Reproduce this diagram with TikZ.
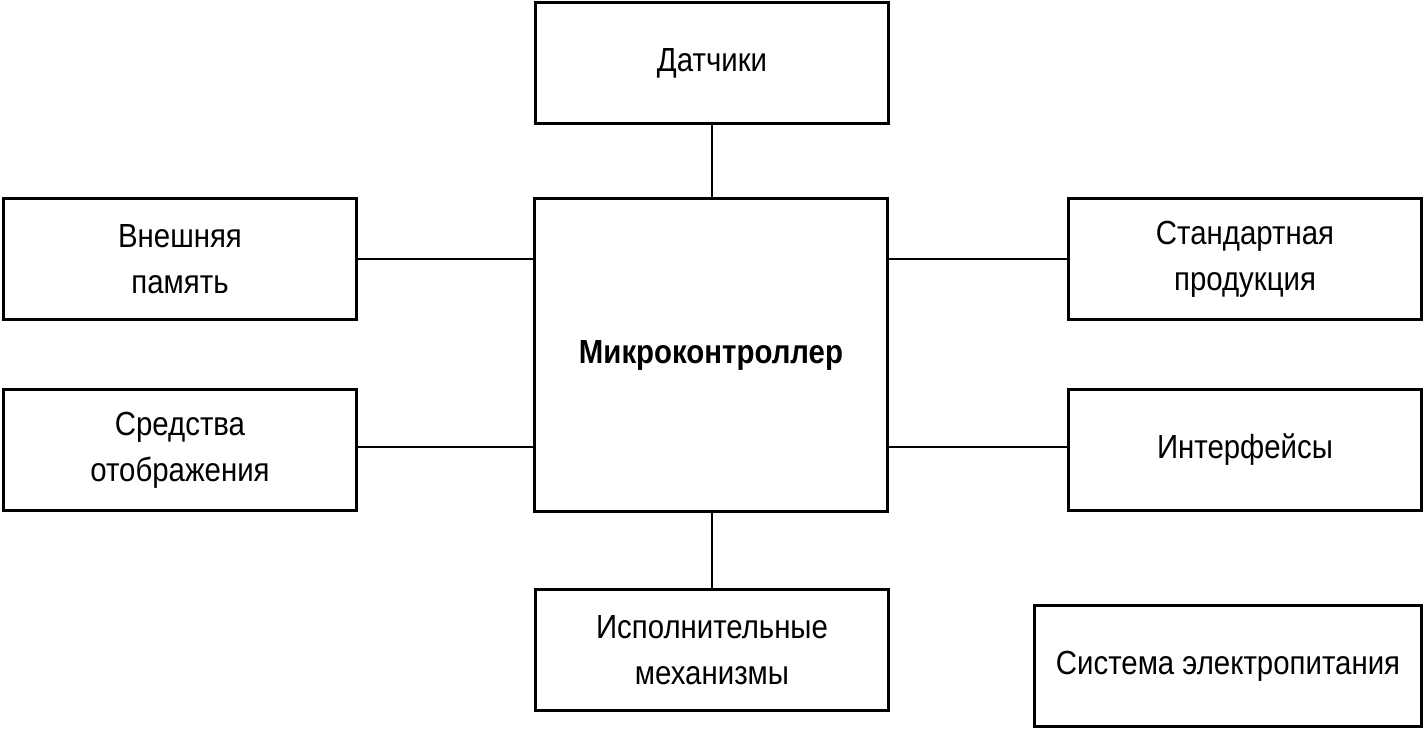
\documentclass[tikz,border=0pt]{standalone}
\usepackage{fontspec}
\setmainfont[FakeStretch=0.88]{Liberation Sans}
\begin{document}
\begin{tikzpicture}[x=0.01cm,y=-0.01cm,
  blk/.style={draw,line width=0.85pt,minimum width=3.52cm,minimum height=1.21cm,
    align=center,font=\fontsize{9.5}{13}\selectfont}]
\useasboundingbox (0,0) rectangle (1423,730);
%%% BLOCKS %%%
\node[blk] (sens) at (712,63) {Датчики};
\node[blk,minimum height=3.13cm,font=\fontsize{9.5}{13}\selectfont\bfseries] (mcu) at (711,355) {Микроконтроллер};
\node[blk] (mem) at (180,259) {Внешняя\\память};
\node[blk] (disp) at (180,450) {Средства\\отображения};
\node[blk] (std) at (1245,259) {Стандартная\\продукция};
\node[blk] (intf) at (1245,450) {Интерфейсы};
\node[blk] (act) at (712,650) {Исполнительные\\механизмы};
\node[blk,minimum width=3.86cm] (pwr) at (1228,666) {Система электропитания};
%%% LINKS %%%
\draw[line width=0.85pt] (sens) -- (sens |- mcu.north);
\draw[line width=0.85pt] (act) -- (act |- mcu.south);
\draw[line width=0.85pt] (mem) -- (mem -| mcu.west);
\draw[line width=0.85pt] (disp.east) ++(0,-3) -- (mcu.west |- 0,447);
\draw[line width=0.85pt] (std) -- (std -| mcu.east);
\draw[line width=0.85pt] (intf.west) ++(0,-3) -- (mcu.east |- 0,447);
\end{tikzpicture}
\end{document}
